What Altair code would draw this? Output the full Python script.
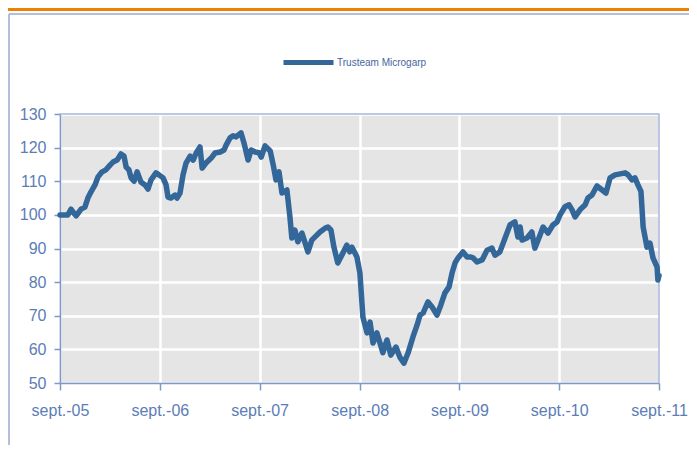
import altair as alt
import pandas as pd

series_name = "Trusteam Microgarp"

dates = [
    "2005-09-01", "2005-09-15", "2005-09-30", "2005-10-11", "2005-10-22", "2005-10-30",
    "2005-11-17", "2005-12-01", "2005-12-12", "2005-12-23", "2006-01-07", "2006-01-18",
    "2006-02-02", "2006-02-16", "2006-03-03", "2006-03-14", "2006-03-29", "2006-04-12",
    "2006-04-23", "2006-05-01", "2006-05-11", "2006-05-19", "2006-05-30", "2006-06-10",
    "2006-06-24", "2006-07-09", "2006-07-20", "2006-07-31", "2006-08-18", "2006-08-29",
    "2006-09-13", "2006-09-24", "2006-10-01", "2006-10-12", "2006-10-27", "2006-11-03",
    "2006-11-14", "2006-11-25", "2006-12-06", "2006-12-21", "2007-01-01", "2007-01-12",
    "2007-01-26", "2007-02-03", "2007-02-17", "2007-03-08", "2007-03-22", "2007-04-10",
    "2007-04-24", "2007-05-02", "2007-05-16", "2007-05-27", "2007-06-07", "2007-06-25",
    "2007-07-06", "2007-07-21", "2007-08-01", "2007-08-16", "2007-08-30", "2007-09-07",
    "2007-09-21", "2007-10-10", "2007-10-21", "2007-10-31", "2007-11-11", "2007-11-22",
    "2007-12-10", "2007-12-21", "2007-12-28", "2008-01-08", "2008-01-19", "2008-02-03",
    "2008-02-25", "2008-03-10", "2008-03-21", "2008-04-09", "2008-04-27", "2008-05-08",
    "2008-05-19", "2008-05-30", "2008-06-13", "2008-07-02", "2008-07-16", "2008-07-27",
    "2008-08-04", "2008-08-22", "2008-09-02", "2008-09-13", "2008-09-28", "2008-10-09",
    "2008-10-20", "2008-11-03", "2008-11-14", "2008-11-25", "2008-12-10", "2008-12-24",
    "2009-01-12", "2009-01-26", "2009-02-10", "2009-02-25", "2009-03-15", "2009-03-30",
    "2009-04-10", "2009-04-21", "2009-05-09", "2009-05-24", "2009-06-11", "2009-06-25",
    "2009-07-10", "2009-07-25", "2009-08-05", "2009-08-16", "2009-08-27", "2009-09-14",
    "2009-09-29", "2009-10-10", "2009-10-21", "2009-11-04", "2009-11-23", "2009-12-11",
    "2009-12-29", "2010-01-09", "2010-01-27", "2010-02-15", "2010-03-05", "2010-03-23",
    "2010-04-03", "2010-04-11", "2010-04-18", "2010-05-06", "2010-05-24", "2010-06-04",
    "2010-06-23", "2010-07-04", "2010-07-22", "2010-08-09", "2010-08-24", "2010-09-04",
    "2010-09-22", "2010-10-07", "2010-10-18", "2010-10-29", "2010-11-16", "2010-12-05",
    "2010-12-15", "2010-12-30", "2011-01-17", "2011-02-05", "2011-02-19", "2011-03-06",
    "2011-03-24", "2011-04-12", "2011-04-30", "2011-05-11", "2011-05-25", "2011-06-05",
    "2011-06-16", "2011-06-27", "2011-07-05", "2011-07-19", "2011-07-30", "2011-08-10",
    "2011-08-25", "2011-08-28", "2011-09-01",
]

values = [
    100.0, 100.0, 100.0, 101.7, 100.5, 99.7,
    101.7, 102.3, 105.0, 106.8, 108.9, 111.3,
    112.8, 113.4, 114.8, 115.7, 116.3, 118.1,
    117.5, 114.2, 113.4, 111.0, 110.0, 112.8,
    109.8, 108.9, 107.7, 110.4, 112.5, 111.9,
    111.0, 108.9, 105.3, 105.0, 105.9, 105.0,
    106.5, 111.9, 115.4, 117.5, 116.3, 118.4,
    120.2, 113.9, 115.4, 116.9, 118.4, 118.7,
    119.3, 120.8, 122.9, 123.5, 123.2, 124.4,
    121.4, 116.3, 119.3, 118.7, 118.5, 117.2,
    120.5, 119.0, 114.8, 110.4, 112.8, 106.5,
    107.4, 99.4, 93.1, 95.5, 92.0, 94.6,
    89.0, 92.5, 93.4, 94.9, 96.0, 96.4,
    95.5, 90.4, 85.7, 88.7, 91.0, 89.0,
    90.4, 87.5, 82.7, 69.6, 64.9, 68.1,
    61.9, 64.9, 62.0, 59.0, 62.8, 58.3,
    60.7, 57.7, 55.9, 58.9, 63.7, 67.2,
    70.2, 70.8, 74.1, 72.6, 70.2, 73.2,
    76.8, 78.6, 82.7, 85.7, 87.2, 89.0,
    87.5, 87.5, 87.2, 86.0, 86.6, 89.5,
    90.1, 88.0, 89.0, 93.1, 97.0, 97.9,
    93.4, 96.4, 92.5, 93.1, 94.9, 90.1,
    94.0, 96.4, 94.6, 97.0, 97.9, 100.0,
    102.4, 103.0, 101.5, 99.4, 101.5, 103.0,
    105.0, 105.9, 108.6, 107.4, 106.5, 111.0,
    111.9, 112.2, 112.5, 111.9, 110.4, 111.0,
    108.9, 107.0, 96.4, 90.4, 91.6, 87.2,
    84.5, 80.6, 82.0,
]

year_ticks = [2005, 2006, 2007, 2008, 2009, 2010, 2011]
y_ticks = [50, 60, 70, 80, 90, 100, 110, 120, 130]

df = pd.DataFrame({"date": dates, "value": values, "series": series_name})
one = pd.DataFrame({"k": [0]})

FONT = "Liberation Sans"
LABEL_COLOR = "#5B7DB6"
AXIS_COLOR = "#7F98C6"
FRAME_COLOR = "#98ABD0"
VIEW_BORDER = "#A9B9D9"
LINE_COLOR = "#336699"

x_enc = alt.X(
    "date:T",
    scale=alt.Scale(
        type="utc",
        domain=[alt.DateTime(year=2005, month=9, date=1, utc=True),
                alt.DateTime(year=2011, month=9, date=1, utc=True)],
    ),
    axis=alt.Axis(
        values=[alt.DateTime(year=y, month=9, date=1, utc=True) for y in year_ticks],
        labelExpr="'sept.-' + utcFormat(datum.value, '%y')",
        title=None,
        grid=True, gridColor="white", gridWidth=2.5,
        domainColor=AXIS_COLOR, domainWidth=1.5,
        tickColor=AXIS_COLOR, tickSize=7, tickWidth=1.5,
        labelPadding=12, labelFontSize=16, labelColor=LABEL_COLOR, labelFont=FONT,
        labelFlush=False, labelOverlap=False,
    ),
)

y_enc = alt.Y(
    "value:Q",
    scale=alt.Scale(domain=[50, 130], nice=False, zero=False),
    axis=alt.Axis(
        values=y_ticks, title=None,
        grid=True, gridColor="white", gridWidth=2.5,
        domainColor=AXIS_COLOR, domainWidth=1.5,
        tickColor=AXIS_COLOR, tickSize=6, tickWidth=1.5,
        labelPadding=8, labelFontSize=16, labelColor=LABEL_COLOR, labelFont=FONT,
        labelFlush=False,
    ),
)

line = alt.Chart(df).mark_line(
    strokeWidth=5.5, strokeJoin="round", strokeCap="round"
).encode(
    x=x_enc,
    y=y_enc,
    color=alt.Color(
        "series:N",
        scale=alt.Scale(range=[LINE_COLOR]),
        legend=alt.Legend(
            title=None, orient="none", legendX=221, legendY=-79,
            direction="horizontal", symbolType="stroke", symbolSize=2500,
            symbolStrokeWidth=5, symbolStrokeColor=LINE_COLOR,
            labelFontSize=10, labelColor="#46679C", labelFont=FONT,
            labelOffset=1, padding=0,
        ),
    ),
)

orange = alt.Chart(one).mark_rule(color="#F08000", strokeWidth=3).encode(
    x=alt.value(-52), x2=alt.value(629), y=alt.value(-104.5)
)
frame_top = alt.Chart(one).mark_rule(color=FRAME_COLOR, strokeWidth=1.5).encode(
    x=alt.value(-51), x2=alt.value(629), y=alt.value(-100)
)
frame_left = alt.Chart(one).mark_rule(color=FRAME_COLOR, strokeWidth=1.5).encode(
    x=alt.value(-51), y=alt.value(-100), y2=alt.value(331)
)
view_top = alt.Chart(one).mark_rule(color=VIEW_BORDER, strokeWidth=1.5).encode(
    x=alt.value(0), x2=alt.value(599), y=alt.value(0)
)
view_right = alt.Chart(one).mark_rule(color=VIEW_BORDER, strokeWidth=1.5).encode(
    x=alt.value(599), y=alt.value(0), y2=alt.value(269)
)

chart = alt.layer(orange, frame_top, frame_left, view_top, view_right, line).properties(
    width=599, height=269,
    background="white",
    autosize=alt.AutoSizeParams(type="none"),
    padding={"left": 52, "top": 106, "right": 30, "bottom": 62},
).configure_view(
    fill="#E5E5E5", stroke=VIEW_BORDER, strokeWidth=1.5
)

chart.save("out.html", embed_options={"renderer": "svg", "actions": False})
